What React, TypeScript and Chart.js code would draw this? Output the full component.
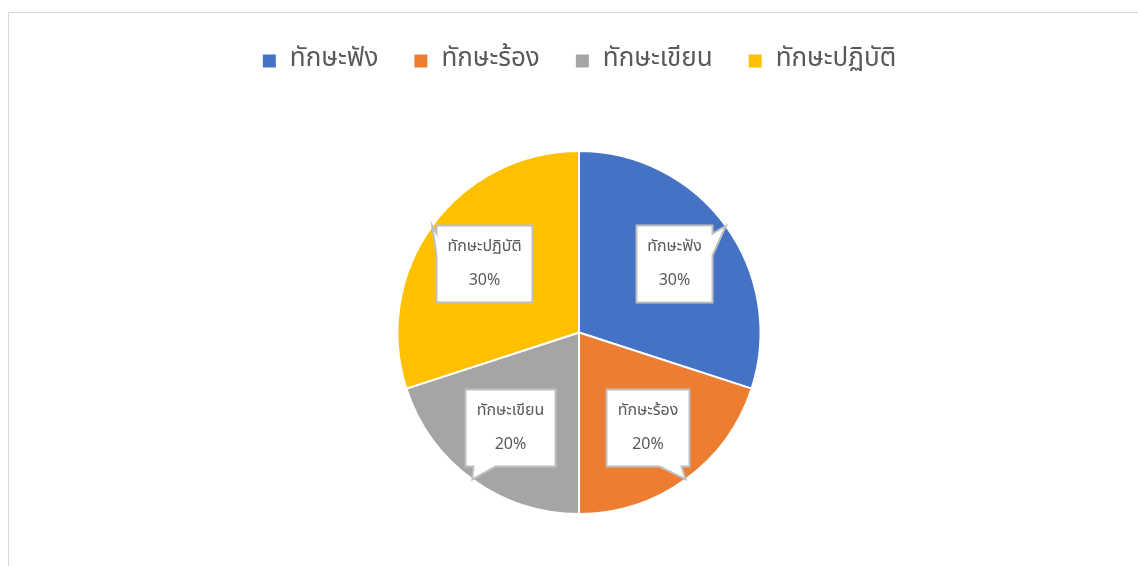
import React, { useEffect, useRef } from "react";
import { Chart, registerables } from "chart.js";

Chart.register(...registerables);

const labels = ["ทักษะฟัง", "ทักษะร้อง", "ทักษะเขียน", "ทักษะปฏิบัติ"];
const values = [30, 20, 20, 30];
const colors = ["#4472C4", "#ED7D31", "#A5A5A5", "#FFC000"];

const FONT = "Tahoma, 'Leelawadee UI', 'Noto Sans Thai', 'Noto Sans', 'DejaVu Sans', sans-serif";
const TEXT = "#595959";

const legendHeight = {
  id: "legendHeight",
  beforeInit(chart: any) {
    const lg = chart.legend;
    if (!lg) return;
    const orig = lg.fit;
    lg.fit = function () {
      orig.call(lg);
      this.height = 137;
    };
  },
};

const callouts = {
  id: "callouts",
  afterDatasetsDraw(chart: any) {
    const ctx = chart.ctx;
    const meta = chart.getDatasetMeta(0);
    const data = chart.data.datasets[0].data as number[];
    const total = data.reduce((a, b) => a + b, 0);
    ctx.save();
    ctx.font = `16px ${FONT}`;
    meta.data.forEach((arc: any, i: number) => {
      const { x, y, startAngle, endAngle, outerRadius } = arc.getProps(
        ["x", "y", "startAngle", "endAngle", "outerRadius"],
        true
      );
      const mid = (startAngle + endAngle) / 2;
      const tipX = x + outerRadius * Math.cos(mid);
      const tipY = y + outerRadius * Math.sin(mid);
      const cx = x + outerRadius * 0.645 * Math.cos(mid);
      const cy = y + outerRadius * 0.645 * Math.sin(mid);
      const label = chart.data.labels[i] as string;
      const pct = Math.round((data[i] / total) * 100) + "%";
      const tw = Math.max(ctx.measureText(label).width, ctx.measureText(pct).width);
      const w = Math.round(tw + 22);
      const h = 77;
      const L = Math.round(cx - w / 2) + 0.5;
      const T = Math.round(cy - h / 2) + 0.5;
      const R = L + w;
      const B = T + h;
      const dx = tipX - cx;
      const dy = tipY - cy;
      const base = 22;
      const m = 8;
      const clamp = (v: number, a: number, b: number) => Math.max(a, Math.min(b, v));
      const pts: [number, number][] = [];
      let side: string;
      if (Math.abs(dx) / (w / 2) > Math.abs(dy) / (h / 2)) side = dx > 0 ? "right" : "left";
      else side = dy > 0 ? "bottom" : "top";
      pts.push([L, T]);
      if (side === "top") {
        const s = clamp(tipX - base / 2, L + m, R - m - base);
        pts.push([s, T], [tipX, tipY], [s + base, T]);
      }
      pts.push([R, T]);
      if (side === "right") {
        const s = clamp(tipY - base / 2, T + m, B - m - base);
        pts.push([R, s], [tipX, tipY], [R, s + base]);
      }
      pts.push([R, B]);
      if (side === "bottom") {
        const s = clamp(tipX - base / 2, L + m, R - m - base);
        pts.push([s + base, B], [tipX, tipY], [s, B]);
      }
      pts.push([L, B]);
      if (side === "left") {
        const s = clamp(tipY - base / 2, T + m, B - m - base);
        pts.push([L, s + base], [tipX, tipY], [L, s]);
      }
      ctx.beginPath();
      pts.forEach((p, k) => (k === 0 ? ctx.moveTo(p[0], p[1]) : ctx.lineTo(p[0], p[1])));
      ctx.closePath();
      ctx.fillStyle = "#ffffff";
      ctx.fill();
      ctx.lineWidth = 2;
      ctx.strokeStyle = "#bfbfbf";
      ctx.lineJoin = "miter";
      ctx.stroke();
      ctx.fillStyle = TEXT;
      ctx.textAlign = "center";
      ctx.textBaseline = "middle";
      ctx.fillText(label, (L + R) / 2, T + 22);
      ctx.fillText(pct, (L + R) / 2, T + 56);
    });
    ctx.restore();
  },
};

export default function App() {
  const ref = useRef<HTMLCanvasElement>(null);
  useEffect(() => {
    if (!ref.current) return;
    const chart = new Chart(ref.current, {
      type: "pie",
      data: {
        labels,
        datasets: [
          {
            data: values,
            backgroundColor: colors,
            borderColor: "#ffffff",
            borderWidth: 2,
          },
        ],
      },
      options: {
        responsive: false,
        animation: false,
        devicePixelRatio: 1,
        layout: { padding: { top: 0, bottom: 51, left: 0, right: 0 } },
        plugins: {
          tooltip: { enabled: false },
          legend: {
            position: "top",
            labels: {
              boxWidth: 15,
              boxHeight: 15,
              padding: 35,
              color: TEXT,
              font: { size: 26, family: FONT },
            },
          },
        },
      },
      plugins: [legendHeight, callouts],
    });
    return () => chart.destroy();
  }, []);
  return (
    <div
      style={{
        position: "fixed",
        left: 8,
        top: 12,
        width: 1130,
        height: 554,
        borderTop: "1px solid #d9d9d9",
        borderLeft: "1px solid #d9d9d9",
        overflow: "hidden",
        background: "#fff",
      }}
    >
      <canvas ref={ref} width={1140} height={553} style={{ display: "block", width: 1140, height: 553 }} />
    </div>
  );
}
